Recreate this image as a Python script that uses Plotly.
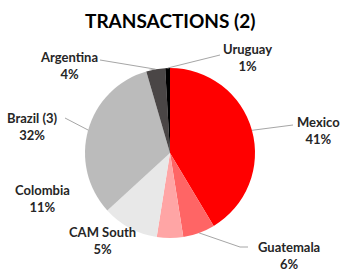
import math
import plotly.graph_objects as go

categories = ["Mexico", "Guatemala", "CAM South", "Colombia", "Brazil (3)", "Argentina", "Uruguay"]
values = [41.4, 6.1, 5.0, 10.7, 32.3, 3.6, 0.9]
colors = ["#FF0000", "#FF6565", "#FFA5A5", "#E8E8E8", "#BBBBBB", "#4A4646", "#000000"]

W, H = 350, 273
CX, CY, R = 170, 153, 85

def px(x):
    return x / W

def py(y):
    return 1 - y / H

fig = go.Figure(go.Pie(
    labels=categories, values=values, sort=False, direction="clockwise", rotation=0,
    marker=dict(colors=colors, line=dict(width=0)),
    textinfo="none", hoverinfo="label+percent", showlegend=False,
    domain=dict(x=[px(CX - R), px(CX + R)], y=[py(CY + R), py(CY - R)]),
))

# label positions (pixel): (text x, text y, leader path points after the pie edge)
label_pos = {
    "Mexico": (318, 130, [(293, 125)]),
    "Guatemala": (289, 255, [(240, 247), (248, 247)]),
    "CAM South": (102, 240, []),
    "Colombia": (42, 198, []),
    "Brazil (3)": (32, 126, [(65, 118)]),
    "Argentina": (69, 65, [(100, 60)]),
    "Uruguay": (248, 57, [(220, 55)]),
}

total = sum(values)
cum = 0
annotations = []
shapes = []
for cat, v in zip(categories, values):
    mid = (cum + v / 2) / total * 2 * math.pi
    cum += v
    ex = CX + R * math.sin(mid)
    ey = CY - R * math.cos(mid)
    tx, ty, path = label_pos[cat]
    pct = round(v / total * 100)
    annotations.append(dict(
        x=px(tx), y=py(ty), xref="paper", yref="paper", showarrow=False,
        xanchor="center", yanchor="middle",
        text=f"<b>{cat}</b><br><b>{pct}%</b>", align="center",
        font=dict(family="Lato", size=13, color="#262626"),
    ))
    prev = (ex, ey)
    for pt in path:
        shapes.append(dict(type="line", xref="paper", yref="paper",
                           x0=px(prev[0]), y0=py(prev[1]), x1=px(pt[0]), y1=py(pt[1]),
                           line=dict(color="#A6A6A6", width=1)))
        prev = pt

annotations.append(dict(
    x=px(170), y=py(21), xref="paper", yref="paper", showarrow=False,
    xanchor="center", yanchor="middle",
    text="<b>TRANSACTIONS (2)</b>",
    font=dict(family="Lato", size=19, color="#000000"),
))

fig.update_layout(
    width=W, height=H, margin=dict(l=0, r=0, t=0, b=0),
    paper_bgcolor="white", plot_bgcolor="white",
    annotations=annotations, shapes=shapes,
)

fig.write_html("out.html")
